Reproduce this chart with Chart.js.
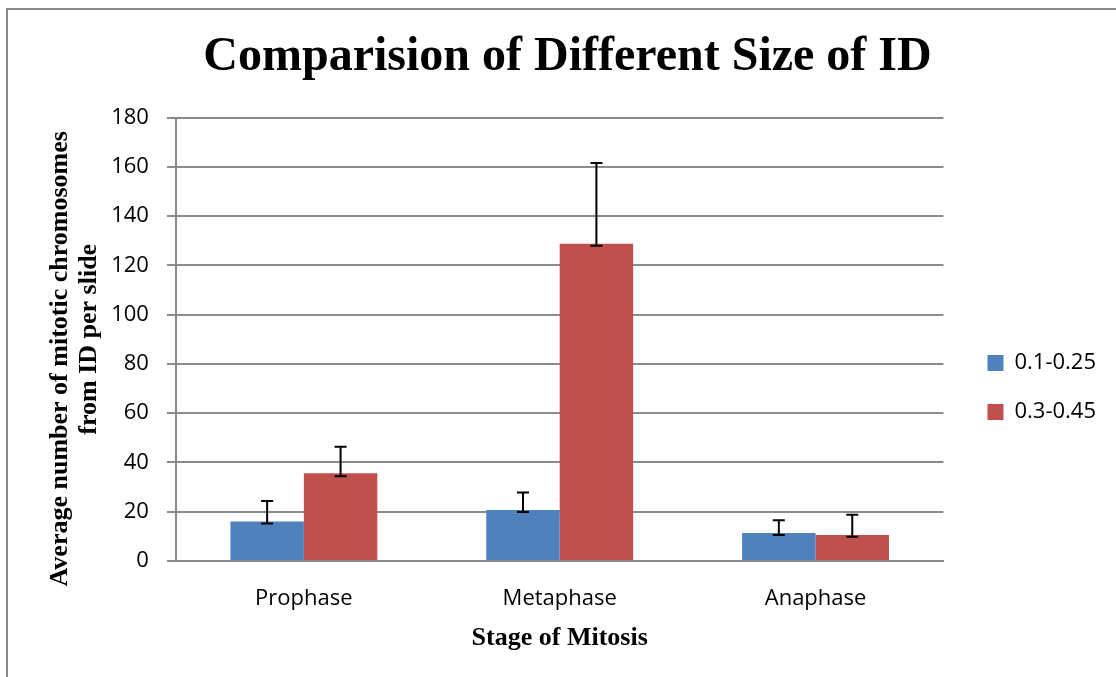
<!DOCTYPE html>
<html>
<head>
<meta charset="utf-8">
<script src="https://cdn.jsdelivr.net/npm/chart.js@4"></script>
<style>
  html, body { margin: 0; padding: 0; background: #fff; }
  #wrap { position: relative; width: 1116px; height: 677px; }
</style>
</head>
<body>
<div id="wrap"><canvas id="mitosischart" width="1116" height="677"></canvas></div>
<script>
const stages = ["Prophase", "Metaphase", "Anaphase"];
const seriesNames = ["0.1-0.25", "0.3-0.45"];
const smallValues = [16.0, 20.7, 11.4];
const smallHigh = [24.4, 27.8, 16.5];
const smallLow = [15.2, 19.9, 10.6];
const largeValues = [35.6, 128.8, 10.6];
const largeHigh = [46.4, 161.6, 18.8];
const largeLow = [34.4, 128.0, 9.8];
const yTicks = [0, 20, 40, 60, 80, 100, 120, 140, 160, 180];

// whiskers drawn from the y scale
const errorBars = {
    id: "errorBars",
    afterDatasetsDraw(chart) {
        const ctx = chart.ctx;
        const yScale = chart.scales.y;
        ctx.save();
        ctx.strokeStyle = "#000";
        ctx.lineWidth = 2;
        chart.data.datasets.forEach((ds, i) => {
            const meta = chart.getDatasetMeta(i);
            meta.data.forEach((bar, j) => {
                const x = bar.x;
                const top = yScale.getPixelForValue(ds.errHigh[j]);
                const bot = yScale.getPixelForValue(ds.errLow[j]);
                ctx.beginPath();
                ctx.moveTo(x, top);
                ctx.lineTo(x, bot);
                ctx.moveTo(x - 6, top);
                ctx.lineTo(x + 6, top);
                ctx.moveTo(x - 6, bot);
                ctx.lineTo(x + 6, bot);
                ctx.stroke();
            });
        });
        ctx.restore();
    },
};

// nudge the legend a bit right and down, like the excel one
const legendNudge = {
    id: "legendNudge",
    afterLayout(chart) {
        const lg = chart.legend;
        lg.left += 17;
        lg.right += 17;
        lg.top += 61;
        lg.bottom += 61;
    },
};

const outerBorder = {
    id: "outerBorder",
    afterDraw(chart) {
        const ctx = chart.ctx;
        ctx.save();
        ctx.strokeStyle = "#888";
        ctx.lineWidth = 2;
        ctx.strokeRect(7, 9, 1200, 800);
        ctx.restore();
    },
};

const serif = "'Liberation Serif', 'Times New Roman', serif";
const sans = "'Open Sans', 'Liberation Sans', sans-serif";

const ctx = document.getElementById("mitosischart").getContext("2d");
new Chart(ctx, {
    type: "bar",
    data: {
        labels: stages,
        datasets: [
            {
                label: seriesNames[0],
                data: smallValues,
                errHigh: smallHigh,
                errLow: smallLow,
                backgroundColor: "#4F81BD",
                barPercentage: 1.0,
                categoryPercentage: 0.574,
            },
            {
                label: seriesNames[1],
                data: largeValues,
                errHigh: largeHigh,
                errLow: largeLow,
                backgroundColor: "#C0504D",
                barPercentage: 1.0,
                categoryPercentage: 0.574,
            },
        ],
    },
    options: {
        responsive: false,
        animation: false,
        layout: { padding: { left: 46, right: 27, top: 0, bottom: 24 } },
        plugins: {
            title: {
                display: true,
                text: "Comparision of Different Size of ID",
                color: "#000",
                font: { family: serif, size: 48, weight: "bold", lineHeight: 1.2 },
                padding: { top: 29, bottom: 31 },
            },
            legend: {
                position: "right",
                labels: {
                    boxWidth: 16,
                    boxHeight: 16,
                    padding: 27,
                    color: "#000",
                    font: { family: sans, size: 22 },
                },
            },
            tooltip: { enabled: false },
        },
        scales: {
            x: {
                grid: { display: false, drawTicks: false },
                border: { display: true, color: "#888", width: 2 },
                ticks: { color: "#000", font: { family: sans, size: 22 }, padding: 25 },
                title: {
                    display: true,
                    text: "Stage of Mitosis",
                    color: "#000",
                    font: { family: serif, size: 26, weight: "bold", lineHeight: 1.1 },
                    padding: { top: -13, bottom: 0 },
                },
            },
            y: {
                min: 0,
                max: 180,
                afterBuildTicks: (axis) => {
                    axis.ticks = yTicks.map((v) => ({ value: v }));
                },
                grid: { color: "#8c8c8c", lineWidth: 2, tickLength: 9 },
                border: { display: true, color: "#888", width: 2 },
                ticks: { color: "#000", font: { family: sans, size: 22 }, padding: 18 },
                title: {
                    display: true,
                    text: ["Average number of mitotic chromosomes      ", "from ID per slide"],
                    color: "#000",
                    font: { family: serif, size: 26, weight: "bold", lineHeight: 1.1 },
                    padding: { top: 0, bottom: -10 },
                },
            },
        },
    },
    plugins: [errorBars, legendNudge, outerBorder],
});
</script>
</body>
</html>
